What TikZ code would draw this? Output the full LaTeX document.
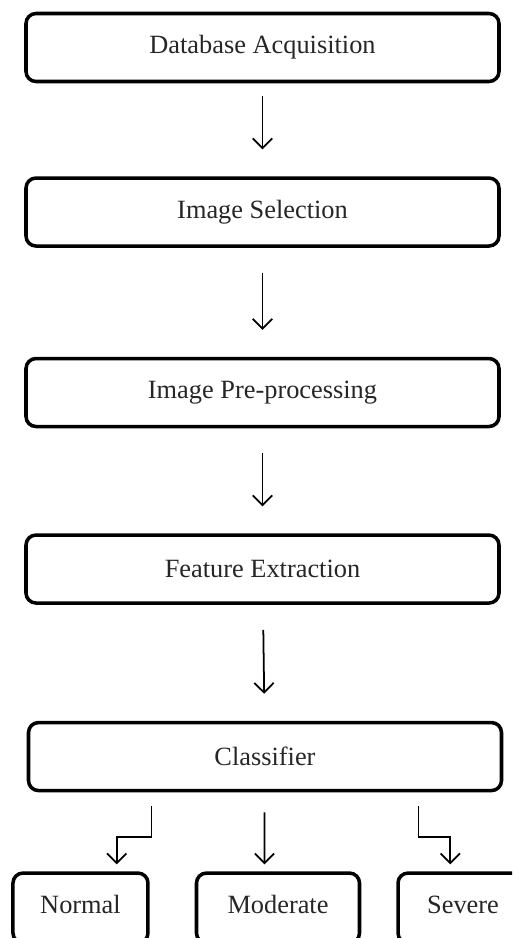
\documentclass[tikz,border=0pt]{standalone}
\usepackage{fontspec}
\setmainfont{Liberation Serif}
\usetikzlibrary{arrows.meta,positioning}

\begin{document}
\begin{tikzpicture}[
		arrow/.style={-{Straight Barb[length=5.5pt,width=11pt]}, line width=1pt, shorten <=0.5cm, shorten >=0.54cm},
		elbow/.style={-{Straight Barb[length=5.5pt,width=11pt]}, line width=1pt},
		block/.style={draw, line width=2pt, rounded corners=0.2cm, minimum height=1.36cm, minimum width=9.46cm, text=black!85, font=\fontsize{15}{18}\selectfont},
		leaf/.style={block, minimum height=1.4cm, text height=1.6ex, text depth=0.3ex},
	]
		\clip (0,0) rectangle (10.24,-18.76);
		\node (db) [block] at (5.25,-0.95) {Database Acquisition};
		\node (sel) [block, below=1.86cm of db] {Image Selection};
		\node (pre) [block, below=2.18cm of sel] {Image Pre-processing};
		\node (fe) [block, below=2.1cm of pre] {Feature Extraction};
		\node (cls) [block, below=2.32cm of fe, xshift=0.05cm] {Classifier};
		
		\node (mod) [leaf, minimum width=3.26cm, below=1.58cm of cls, xshift=0.26cm] {Moderate};
		\node (norm) [leaf, minimum width=2.7cm, left=0.9cm of mod] {Normal};
		\node (sev) [leaf, minimum width=2.6cm, right=0.7cm of mod] {Severe};
		
		\coordinate (nstart) at ([xshift=-2.27cm, yshift=-0.28cm]cls.south);
		\coordinate (sstart) at ([xshift=3.07cm, yshift=-0.28cm]cls.south);
		
		\draw[arrow, shorten <=0.26cm] (db) -- (sel);
		\draw[arrow] (sel) -- (pre);
		\draw[arrow] (pre) -- (fe);
		\draw[arrow] (fe) -- (cls);
		\draw[elbow] (nstart) -- ++(0,-0.62) -| ([xshift=-0.66cm, yshift=0.14cm]norm.north east);
		\draw[arrow, shorten <=0.4cm, shorten >=0.14cm] ([xshift=-0.01cm]cls.south) -- ([xshift=-0.27cm]mod.north);
		\draw[elbow] (sstart) -- ++(0,-0.62) -| ([xshift=1.08cm, yshift=0.14cm]sev.north west);
	\end{tikzpicture}
\end{document}
